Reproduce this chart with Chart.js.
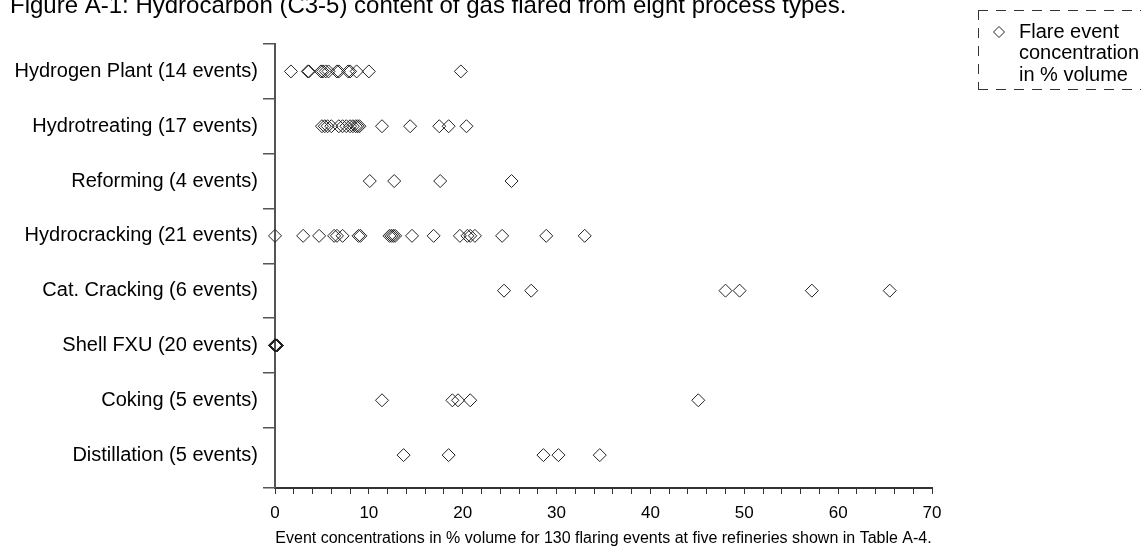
<!DOCTYPE html>
<html><head><meta charset="utf-8">
<script src="https://cdn.jsdelivr.net/npm/chart.js@4/dist/chart.umd.min.js"></script>
<style>html,body{margin:0;padding:0;background:#fff}#wrap{width:1141px;height:554px;position:relative}</style>
</head><body><div id="wrap"><canvas id="c" width="1141" height="554"></canvas></div>
<script>
const chartTitle = "Figure A-1: Hydrocarbon (C3-5) content of gas flared from eight process types.";
const xAxisTitle = "Event concentrations in % volume for 130 flaring events at five refineries shown in Table A-4.";
const legendLines = ["Flare event", "concentration", "in % volume"];
const categories = ["Hydrogen Plant (14 events)", "Hydrotreating (17 events)", "Reforming (4 events)", "Hydrocracking (21 events)", "Cat. Cracking (6 events)", "Shell FXU (20 events)", "Coking (5 events)", "Distillation (5 events)"];
const hydrogenPlant = [1.7, 3.5, 3.6, 4.9, 5.1, 5.4, 5.7, 6.6, 6.8, 7.8, 8.0, 8.7, 10.0, 19.8];
const hydrotreating = [5.0, 5.3, 5.6, 6.0, 6.8, 7.2, 7.6, 8.0, 8.3, 8.6, 8.8, 9.0, 11.4, 14.4, 17.5, 18.5, 20.4];
const reforming = [10.1, 12.7, 17.6, 25.2];
const hydrocracking = [0, 3.0, 4.7, 6.3, 6.6, 7.2, 8.9, 9.1, 12.2, 12.4, 12.6, 12.8, 14.6, 16.9, 19.7, 20.5, 20.8, 21.3, 24.2, 28.9, 33.0];
const catCracking = [24.4, 27.3, 48.0, 49.5, 57.2, 65.5];
const shellFXU = [0, 0, 0.05, 0, 0.1, 0.05, 0, 0.15, 0, 0.05, 0.1, 0, 0.2, 0.05, 0, 0.1, 0.15, 0, 0.05, 0.2];
const coking = [11.4, 18.9, 19.5, 20.8, 45.1];
const distillation = [13.7, 18.5, 28.6, 30.2, 34.6];
const seriesValues = [hydrogenPlant, hydrotreating, reforming, hydrocracking, catCracking, shellFXU, coking, distillation];
const xTickLabels = [0, 10, 20, 30, 40, 50, 60, 70];

const FONT = "'Liberation Sans', Arial, Helvetica, sans-serif";
const points = [];
seriesValues.forEach((arr, i) => arr.forEach(v => points.push({x: v, y: i + 0.5})));

const overlay = {
  id: 'overlay',
  afterDraw(chart) {
    const ctx = chart.ctx;
    ctx.save();
    ctx.fillStyle = '#000';
    ctx.font = '24px ' + FONT;
    ctx.textBaseline = 'alphabetic';
    ctx.textAlign = 'left';
    ctx.fillText(chartTitle, 10, 13);
    // legend box
    ctx.strokeStyle = '#333';
    ctx.lineWidth = 1;
    ctx.setLineDash([10, 8]);
    ctx.beginPath();
    ctx.moveTo(978, 10.5); ctx.lineTo(1141, 10.5);
    ctx.moveTo(978.5, 10); ctx.lineTo(978.5, 90);
    ctx.moveTo(978, 89.5); ctx.lineTo(1141, 89.5);
    ctx.stroke();
    ctx.setLineDash([]);
    ctx.strokeStyle = '#222';
    ctx.beginPath();
    const dx = 999, dy = 32, r = 5.5;
    ctx.moveTo(dx - r, dy); ctx.lineTo(dx, dy - r); ctx.lineTo(dx + r, dy); ctx.lineTo(dx, dy + r); ctx.closePath();
    ctx.stroke();
    ctx.font = '20px ' + FONT;
    ctx.textBaseline = 'middle';
    legendLines.forEach((t, i) => ctx.fillText(t, 1019, 32 + i * 21.5));
    ctx.restore();
  }
};

new Chart(document.getElementById('c'), {
  type: 'scatter',
  data: {datasets: [{
    label: legendLines.join(' '),
    data: points,
    pointStyle: 'rectRot',
    pointRadius: 6.5,
    pointHoverRadius: 6.5,
    borderColor: '#222',
    backgroundColor: 'rgba(0,0,0,0)',
    borderWidth: 1,
    clip: false
  }]},
  options: {
    responsive: false,
    animation: false,
    events: [],
    layout: {padding: {left: 0, right: 209, top: 44, bottom: 0}},
    plugins: {legend: {display: false}, tooltip: {enabled: false}, title: {display: false}},
    scales: {
      x: {
        type: 'linear', min: 0, max: 70, position: 'bottom',
        afterFit(s) { s.height = 554 - 488; },
        border: {display: true, color: '#333', width: 2},
        grid: {drawOnChartArea: false, drawTicks: true, tickLength: 6, tickColor: '#333', lineWidth: 1},
        ticks: {
          stepSize: 2, autoSkip: false, maxRotation: 0, color: '#000', padding: 9,
          font: {family: FONT, size: 17},
          callback: v => xTickLabels.includes(Math.round(v)) && Math.abs(v - Math.round(v)) < 1e-6 ? String(Math.round(v)) : ''
        },
        title: {display: true, text: xAxisTitle, color: '#000', font: {family: FONT, size: 16}, padding: {top: 0, bottom: 6}}
      },
      y: {
        type: 'linear', min: 0, max: 8.1, reverse: true,
        afterFit(s) { s.width = 275; },
        afterBuildTicks(s) {
          const t = [];
          for (let i = 0; i < categories.length; i++) { t.push({value: i}); t.push({value: i + 0.5}); }
          t.push({value: 8.1});
          s.ticks = t;
        },
        border: {display: true, color: '#555', width: 2},
        grid: {
          drawOnChartArea: false, drawTicks: true, tickLength: 12, lineWidth: 1.5,
          tickColor: c => (c.tick && Math.abs(c.tick.value - Math.floor(c.tick.value) - 0.5) < 1e-6) ? 'rgba(0,0,0,0)' : '#555'
        },
        ticks: {
          autoSkip: false, color: '#000', padding: 5,
          font: {family: FONT, size: 20},
          callback: v => { const k = v - 0.5; const r = Math.round(k); return Math.abs(k - r) < 1e-6 && r >= 0 && r < categories.length ? categories[r] : ''; }
        }
      }
    }
  },
  plugins: [overlay]
});
</script></body></html>
